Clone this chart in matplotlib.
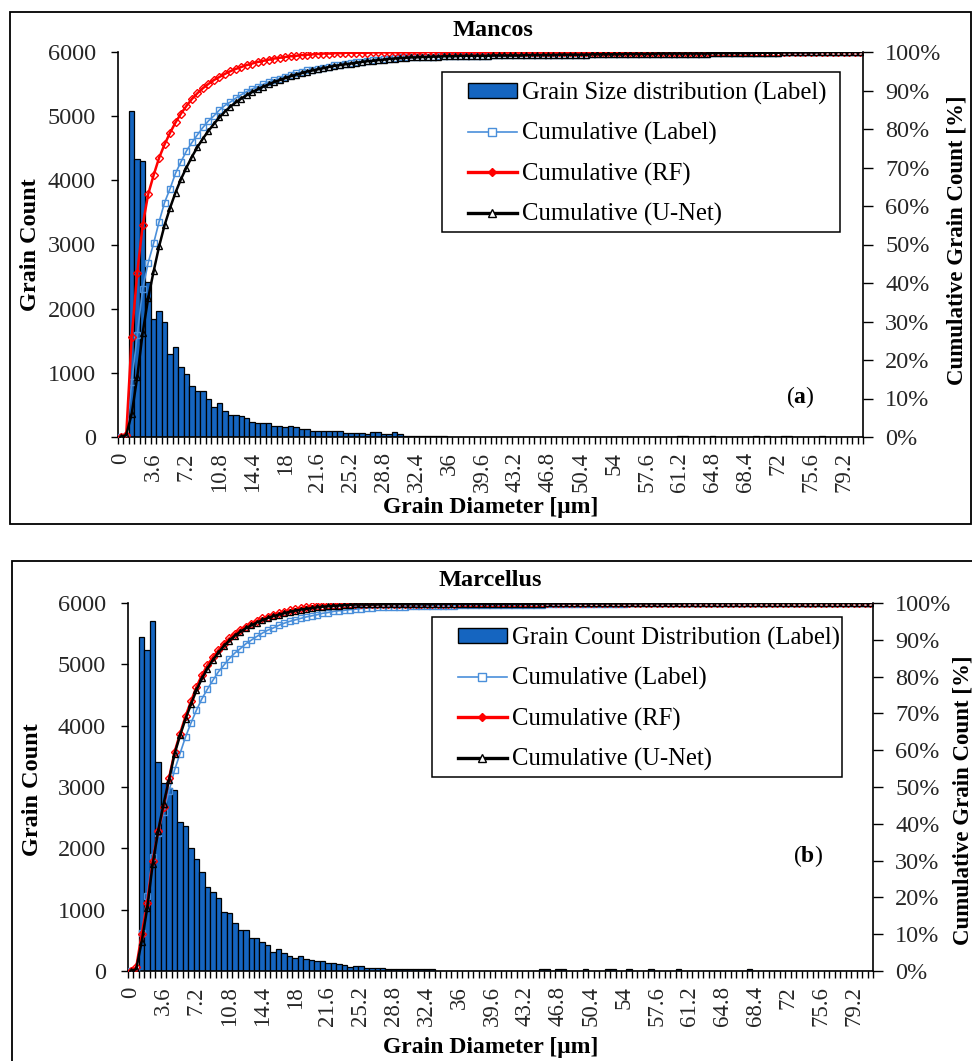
import numpy as np
import matplotlib
matplotlib.use("Agg")
import matplotlib.pyplot as plt
from matplotlib.patches import Rectangle, Patch
from matplotlib.lines import Line2D
from matplotlib.ticker import FixedLocator, FixedFormatter, PercentFormatter

plt.rcParams["font.family"] = ["Liberation Serif", "DejaVu Serif"]
plt.rcParams["mathtext.fontset"] = "custom"
plt.rcParams["mathtext.rm"] = "Liberation Serif"
plt.rcParams["mathtext.bf"] = "Liberation Serif:bold"

# grain diameter bins [µm], 0.6 µm wide, 136 bins (0 .. 81.0)
bin_width = 0.6
n_bins = 136
diameters = [round(i * bin_width, 1) for i in range(n_bins)]

# ---------------- Mancos ----------------
mancos_counts = (
    [0, 0, 5080, 4330, 4300, 2420, 1835, 1965, 1790, 1300,
     1405, 1090, 980, 790, 710, 710, 600, 470, 532, 402,
     345, 345, 320, 293, 240, 212, 212, 212, 172, 168,
     155, 172, 150, 125, 125, 93, 93, 93, 93, 93,
     93, 67, 67, 67, 67, 42, 73, 73, 42, 42,
     73, 42, 15, 15, 15, 15, 15, 15, 15, 15]
    + [6] * 41
    + [0, 10, 20, 0, 0, 0, 0, 20, 0,
       0, 0, 0, 0, 0, 0, 20, 0, 20, 0,
       0, 20, 20, 0, 0, 0, 0, 0, 20, 0,
       0, 0, 0, 0, 0, 0]
)
mancos_cum_label = (
    [0, 0, 14.2, 26.4, 38.4, 45.2, 50.3, 55.9, 60.9, 64.5,
     68.5, 71.5, 74.3, 76.5, 78.5, 80.4, 82.1, 83.4, 84.9, 86.1,
     87.0, 88.0, 88.9, 89.7, 90.4, 91.0, 91.6, 92.2, 92.7, 93.1,
     93.6, 94.0, 94.5, 94.8, 95.2, 95.4, 95.7, 95.9, 96.2, 96.5,
     96.7, 96.9, 97.1, 97.3, 97.5, 97.6, 97.8, 98.0, 98.1, 98.2,
     98.4, 98.6, 98.6, 98.6, 98.7, 98.7, 98.8, 98.8, 98.9, 98.9,
     98.9, 98.9, 99.0, 99.0, 99.0, 99.0, 99.0, 99.0, 99.1, 99.1,
     99.1, 99.1, 99.1, 99.1, 99.2, 99.2, 99.2, 99.2, 99.2, 99.2,
     99.3, 99.3, 99.3, 99.3, 99.3, 99.3, 99.4, 99.4, 99.4, 99.4,
     99.4, 99.4, 99.5, 99.5, 99.5, 99.5, 99.5, 99.5, 99.6, 99.6,
     99.6, 99.6, 99.6, 99.6, 99.6, 99.6, 99.6, 99.6, 99.7, 99.7,
     99.7, 99.7, 99.7, 99.7, 99.7, 99.7, 99.8, 99.8, 99.8, 99.8,
     99.8, 99.9, 99.9, 99.9, 99.9, 99.9, 99.9, 99.9, 100, 100,
     100, 100, 100, 100, 100, 100]
)
mancos_cum_rf = (
    [0, 0.5, 26.0, 42.5, 55.0, 63.0, 68.0, 72.5, 76.0, 79.0,
     81.7, 84.0, 86.0, 87.8, 89.3, 90.6, 91.7, 92.7, 93.5, 94.3,
     95.0, 95.6, 96.1, 96.6, 97.0, 97.4, 97.7, 98.0, 98.3, 98.5,
     98.7, 98.9, 99.0, 99.2, 99.3, 99.4, 99.5, 99.6, 99.6, 99.7,
     99.7, 99.8, 99.8, 99.8, 99.8, 99.8, 99.9, 99.9, 99.9, 99.9,
     99.9, 99.9, 99.9, 99.9, 99.9, 99.9]
    + [100] * 80
)
mancos_cum_unet = (
    [0, 0.5, 6.0, 15.5, 27.0, 36.0, 43.0, 49.5, 55.0, 59.5,
     63.5, 67.0, 70.0, 72.8, 75.3, 77.5, 79.5, 81.3, 83.0, 84.5,
     85.8, 86.9, 87.9, 88.8, 89.6, 90.3, 91.0, 91.6, 92.2, 92.7,
     93.2, 93.7, 94.1, 94.5, 94.9, 95.2, 95.5, 95.8, 96.1, 96.4,
     96.6, 96.8, 97.0, 97.2, 97.4, 97.6, 97.7, 97.9, 98.0, 98.2,
     98.3, 98.4, 98.5, 98.6, 98.6, 98.7, 98.7, 98.8, 98.8, 98.9,
     98.9, 98.9, 99.0, 99.0, 99.0, 99.0, 99.0, 99.0, 99.1, 99.1,
     99.1, 99.1, 99.1, 99.1, 99.2, 99.2, 99.2, 99.2, 99.2, 99.2,
     99.3, 99.3, 99.3, 99.3, 99.3, 99.3, 99.4, 99.4, 99.4, 99.4,
     99.4, 99.4, 99.5, 99.5, 99.5, 99.5, 99.5, 99.5, 99.6, 99.6,
     99.6, 99.6, 99.6, 99.6, 99.6, 99.6, 99.6, 99.6, 99.7, 99.7,
     99.7, 99.7, 99.7, 99.7, 99.7, 99.7, 99.8, 99.8, 99.8, 99.8,
     99.8, 99.9, 99.9, 99.9, 99.9, 99.9, 99.9, 99.9, 100, 100,
     100, 100, 100, 100, 100, 100]
)

# ---------------- Marcellus ----------------
marcellus_counts = (
    [0, 0, 5450, 5240, 5700, 3400, 3060, 2980, 2950, 2426,
     2372, 2000, 1822, 1620, 1376, 1295, 1186, 968, 941, 789,
     669, 669, 533, 533, 479, 424, 316, 354, 299, 245,
     218, 245, 196, 180, 163, 163, 136, 125, 109, 98,
     71, 82, 82, 54, 44, 44, 44, 27, 27, 27,
     27, 27, 27, 27, 27, 27, 5, 5, 5, 5,
     5, 5, 5, 5, 5, 5, 5, 5, 5, 5,
     5, 5, 5, 5, 5, 25, 25, 0, 25, 25,
     0, 0, 0, 25, 0, 0, 0, 25, 25, 0,
     0, 25, 0, 0, 0, 25, 0, 0, 0, 0,
     25, 0, 0, 0, 0, 0, 0, 0, 0, 0,
     0, 0, 0, 25, 0, 0, 0, 0, 0, 0]
    + [0] * 16
)
marcellus_cum_label = (
    [0, 0, 10.3, 20.3, 31.1, 37.5, 43.3, 49.0, 54.6, 59.1,
     63.6, 67.4, 70.9, 74.0, 76.6, 79.0, 81.3, 83.1, 84.9, 86.4,
     87.6, 88.9, 89.9, 90.9, 91.8, 92.6, 93.2, 93.9, 94.5, 95.0,
     95.4, 95.8, 96.2, 96.5, 96.8, 97.2, 97.4, 97.7, 97.9, 98.0,
     98.2, 98.3, 98.5, 98.6, 98.7, 98.8, 98.8, 98.9, 98.9, 99.0,
     99.0, 99.1, 99.1, 99.2, 99.2, 99.3, 99.3, 99.3, 99.3, 99.3,
     99.4, 99.4, 99.4, 99.4, 99.4, 99.4, 99.4, 99.4, 99.4, 99.4,
     99.4, 99.4, 99.5, 99.5, 99.5, 99.5, 99.6, 99.6, 99.6, 99.7,
     99.7, 99.7, 99.7, 99.7, 99.7, 99.7, 99.7, 99.8, 99.8, 99.8,
     99.8, 99.9, 99.9, 99.9, 99.9, 99.9, 99.9, 99.9, 99.9, 99.9,
     99.9, 99.9, 99.9, 99.9, 99.9, 99.9, 99.9, 99.9, 99.9, 99.9,
     99.9, 99.9, 99.9]
    + [100] * 23
)
marcellus_cum_rf = (
    [0, 1.0, 10.0, 18.5, 30.0, 38.0, 44.5, 52.5, 59.5, 64.5,
     69.2, 73.3, 77.2, 80.4, 83.1, 85.3, 87.2, 88.9, 90.4, 91.6,
     92.7, 93.6, 94.4, 95.1, 95.8, 96.3, 96.8, 97.2, 97.6, 98.0,
     98.3, 98.6, 98.9, 99.1, 99.2, 99.3, 99.4, 99.5, 99.5, 99.6,
     99.6, 99.7, 99.7, 99.7, 99.7, 99.7, 99.8, 99.8, 99.8, 99.8]
    + [99.8] * 10
    + [99.9] * 10
    + [100] * 66
)
marcellus_cum_unet = (
    [0, 0.5, 8.0, 17.0, 29.0, 38.0, 45.5, 52.0, 59.0, 64.0,
     68.5, 72.5, 76.3, 79.5, 82.2, 84.5, 86.5, 88.3, 89.8, 91.1,
     92.2, 93.1, 93.9, 94.7, 95.3, 95.9, 96.4, 96.8, 97.2, 97.6,
     97.9, 98.2, 98.4, 98.6, 98.8, 99.0, 99.1, 99.2, 99.3, 99.4,
     99.5, 99.6, 99.6, 99.6, 99.6, 99.6, 99.7, 99.7, 99.7, 99.7]
    + [99.7] * 6
    + [99.8] * 20
    + [99.9] * 25
    + [100] * 35
)

bar_blue = "#1565C0"
label_blue = "#4A8FDA"
text_col = "#262626"

W, H = 972, 1061
fig = plt.figure(figsize=(W / 100, H / 100), dpi=100)


def fx(px):
    return px / W


def fy(py):
    return 1 - py / H


def draw_panel(box, title, counts, cum_label, cum_rf, cum_unet, bar_name, tag,
               leg_box, txt):
    left, top, right, bottom = box
    ax = fig.add_axes([fx(left), fy(bottom), fx(right) - fx(left), fy(top) - fy(bottom)])
    x = np.arange(len(counts))
    ax.bar(x, counts, width=1.0, color=bar_blue, edgecolor="black", linewidth=0.9, zorder=2)
    ax.set_xlim(-0.5, len(counts) - 0.5)
    ax.set_ylim(0, 6000)
    ax.set_yticks(range(0, 6001, 1000))
    ax.tick_params(axis="y", direction="out", length=5, width=1, pad=11,
                   labelsize=17.5, labelcolor=text_col)

    major = list(range(0, len(counts), 6))
    ax.xaxis.set_major_locator(FixedLocator(major))
    ax.xaxis.set_major_formatter(FixedFormatter([f"{diameters[i]:g}" for i in major]))
    ax.xaxis.set_minor_locator(FixedLocator([i - 0.5 for i in range(len(counts) + 1)]))
    ax.tick_params(axis="x", which="major", length=0, pad=11, labelsize=16.5,
                   labelrotation=90, labelcolor=text_col)
    ax.tick_params(axis="x", which="minor", direction="out", length=5, width=1)
    for s in ("top", "right"):
        ax.spines[s].set_visible(False)
    for s in ("left", "bottom"):
        ax.spines[s].set_linewidth(1.2)

    ax2 = ax.twinx()
    ax2.plot(x, cum_label, color=label_blue, lw=1.2, marker="s", ms=5,
             mfc="none", mec=label_blue, mew=1.0)
    ax2.plot(x, cum_rf, color="red", lw=1.8, marker="D", ms=4,
             mfc="none", mec="red", mew=1.0)
    ax2.plot(x, cum_unet, color="black", lw=1.8, marker="^", ms=4.3,
             mfc="none", mec="black", mew=1.0)
    ax2.set_ylim(0, 100)
    ax2.set_yticks(range(0, 101, 10))
    ax2.yaxis.set_major_formatter(PercentFormatter(xmax=100, decimals=0))
    ax2.tick_params(axis="y", direction="out", length=7, width=1, pad=9,
                    labelsize=17.5, labelcolor=text_col)
    for s in ("top", "left", "bottom"):
        ax2.spines[s].set_visible(False)
    ax2.spines["right"].set_linewidth(1.2)

    # legend box drawn as its own rectangle, entries placed inside it
    bx0, by0, bx1, by1 = leg_box
    fig.add_artist(Rectangle((fx(bx0), fy(by1)), fx(bx1) - fx(bx0), fy(by0) - fy(by1),
                             transform=fig.transFigure, facecolor="white",
                             edgecolor="black", lw=1.1, zorder=4))
    handles = [
        Patch(facecolor=bar_blue, edgecolor="black", linewidth=1.0),
        Line2D([], [], color=label_blue, lw=1.2, marker="s", ms=5.5, mfc="white", mec=label_blue),
        Line2D([], [], color="red", lw=2.4, marker="D", ms=4, mfc="red", mec="red"),
        Line2D([], [], color="black", lw=2.4, marker="^", ms=5.5, mfc="white", mec="black"),
    ]
    names = [bar_name, "Cumulative (Label)", "Cumulative (RF)", "Cumulative (U-Net)"]
    leg = fig.legend(handles, names, loc="upper left",
                     bbox_to_anchor=(fx(bx0 + 26), fy(by0 + 10)),
                     bbox_transform=fig.transFigure, fontsize=17.8, frameon=False,
                     handlelength=1.98, handletextpad=0.2, handleheight=0.55,
                     labelspacing=0.7, borderpad=0, borderaxespad=0)
    leg.set_zorder(5)

    fig.text(fx(txt["title"][0]), fy(txt["title"][1]), title, ha="center", va="center",
             fontsize=17.5, fontweight="bold")
    fig.text(fx(txt["ylab"][0]), fy(txt["ylab"][1]), "Grain Count", ha="center",
             va="center", rotation=90, fontsize=17.5, fontweight="bold")
    fig.text(fx(txt["y2lab"][0]), fy(txt["y2lab"][1]), "Cumulative Grain Count [%]",
             ha="center", va="center", rotation=90, fontsize=16.5, fontweight="bold")
    fig.text(fx(txt["xlab"][0]), fy(txt["xlab"][1]), "Grain Diameter [\u03bcm]",
             ha="center", va="center", fontsize=17, fontweight="bold")
    fig.text(fx(txt["tag"][0]), fy(txt["tag"][1]), "(" + r"$\mathbf{" + tag + "}$" + ")",
             ha="center", va="center", fontsize=17)
    return ax, ax2


draw_panel((118, 52, 863, 437), "Mancos", mancos_counts, mancos_cum_label,
           mancos_cum_rf, mancos_cum_unet, "Grain Size distribution (Label)", "a",
           (442, 72, 840, 232),
           {"title": (493, 30), "ylab": (30, 245), "y2lab": (957, 240),
            "xlab": (491, 508), "tag": (800, 397)})

draw_panel((128, 603, 873, 971), "Marcellus", marcellus_counts, marcellus_cum_label,
           marcellus_cum_rf, marcellus_cum_unet, "Grain Count Distribution (Label)", "b",
           (432, 617, 842, 777),
           {"title": (490, 580), "ylab": (33, 790), "y2lab": (963, 800),
            "xlab": (491, 1047), "tag": (808, 856)})

# panel frames
fig.add_artist(Rectangle((fx(10), fy(524)), fx(971) - fx(10), fy(12) - fy(524),
                         transform=fig.transFigure, fill=False, edgecolor="black", lw=1.3))
fig.add_artist(Rectangle((fx(12), -0.01), 1.02, fy(561) + 0.01,
                         transform=fig.transFigure, fill=False, edgecolor="black", lw=1.3))

fig.savefig("out.png", dpi=100)
